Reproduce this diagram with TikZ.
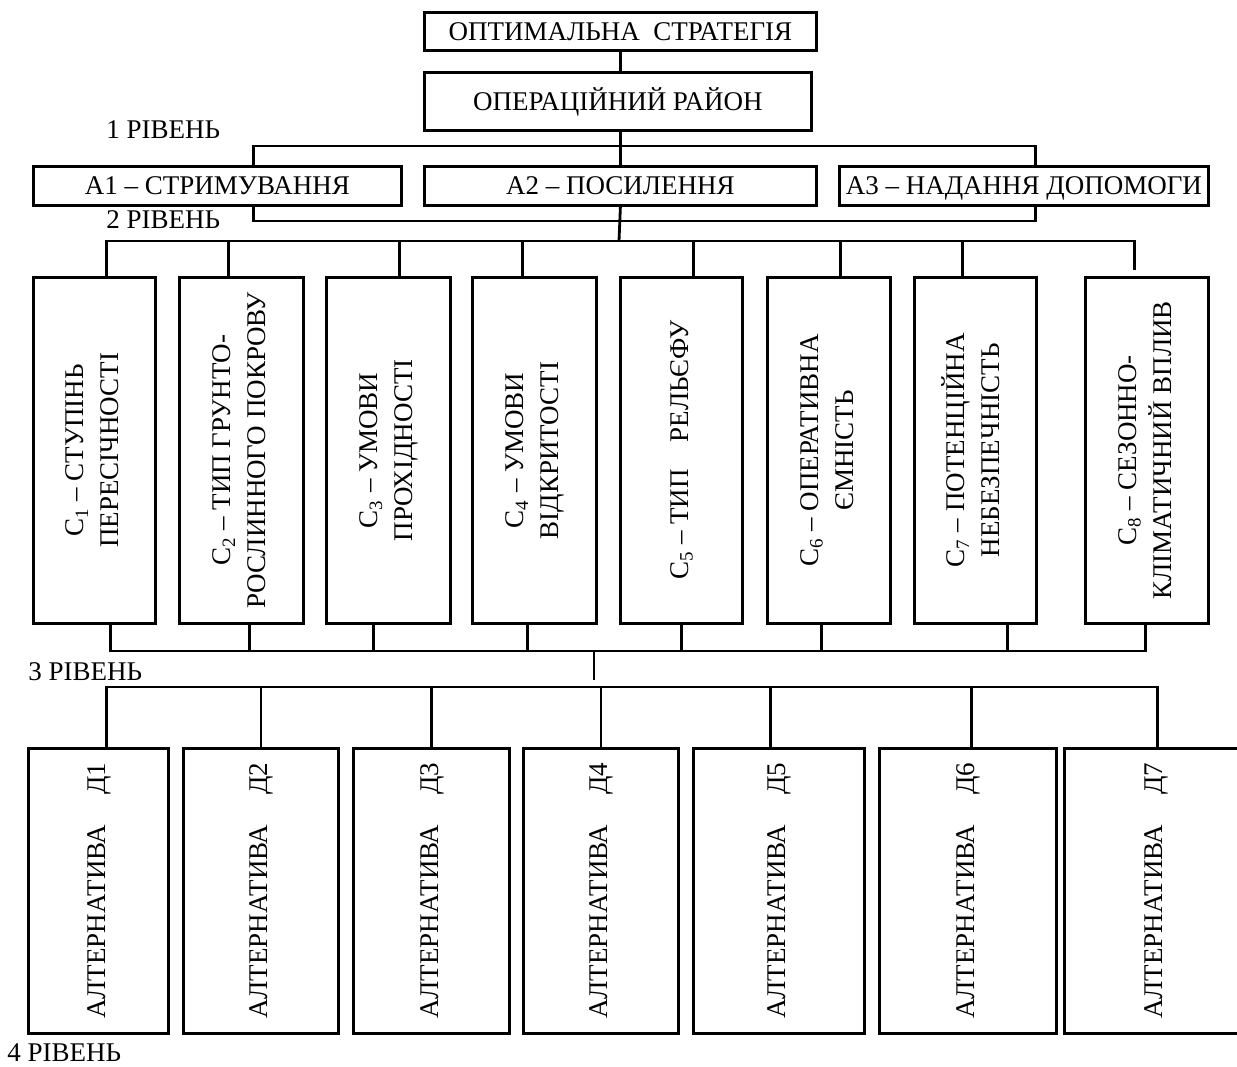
\documentclass[tikz,border=0pt]{standalone}
\usepackage{fontspec}
\setmainfont{Liberation Serif}
\usetikzlibrary{positioning}

\tikzset{
  box/.style={draw, line width=1.4pt, inner sep=0pt, anchor=north west,
    font=\fontsize{13.5}{16}\selectfont},
  abox/.style={box, text height=9pt, text depth=0pt},
  cbox/.style={box, minimum height=173pt},
  dbox/.style={box, minimum height=142.5pt},
  lvl/.style={inner sep=0pt, anchor=base west, font=\fontsize{13.5}{16}\selectfont},
  line/.style={line width=1.4pt},
}
\newcommand{\vtext}[1]{\rotatebox{90}{\fontsize{13.5}{17.5}\selectfont\begin{tabular}{@{}c@{}}#1\end{tabular}}}

\begin{document}
\begin{tikzpicture}[x=0.5pt, y=-0.5pt]
  \useasboundingbox (0,0) rectangle (1237,1066);
  \clip (0,0) rectangle (1237,1066);

  % goal and area
  \node[abox, minimum width=196pt, minimum height=19pt] (strat) at (423,11) {ОПТИМАЛЬНА\enspace СТРАТЕГІЯ};
  \node[abox, minimum width=193.5pt, minimum height=29pt, below right=9.5pt and 0pt of strat.south west] (rayon) {ОПЕРАЦІЙНИЙ РАЙОН};

  % levels
  \node[lvl] (lvl1) at (106,138) {1 РІВЕНЬ};
  \node[lvl] (lvl2) at (106,228) {2 РІВЕНЬ};
  \node[lvl] (lvl3) at (28,680) {3 РІВЕНЬ};
  \node[lvl] (lvl4) at (7,1061) {4 РІВЕНЬ};

  % actors
  \node[abox, minimum width=184pt, minimum height=19.5pt] (a1) at (32,165) {А1 – СТРИМУВАННЯ};
  \node[abox, minimum width=196pt, minimum height=19.5pt] (a2) at (423,165) {А2 – ПОСИЛЕННЯ};
  \node[abox, minimum width=184.5pt, minimum height=19.5pt] (a3) at (838,165) {А3 – НАДАННЯ ДОПОМОГИ};

  % criteria
  \node[cbox, minimum width=61pt] (c1) at (32,276) {\vtext{C\textsubscript{1} – СТУПІНЬ\\ПЕРЕСІЧНОСТІ}};
  \node[cbox, minimum width=62pt] (c2) at (178,276) {\vtext{C\textsubscript{2} – ТИП ГРУНТО-\\РОСЛИННОГО ПОКРОВУ}};
  \node[cbox, minimum width=62pt] (c3) at (325,276) {\vtext{C\textsubscript{3} – УМОВИ\\ПРОХІДНОСТІ}};
  \node[cbox, minimum width=62pt] (c4) at (471,276) {\vtext{C\textsubscript{4} – УМОВИ\\ВІДКРИТОСТІ}};
  \node[cbox, minimum width=61pt] (c5) at (619,276) {\vtext{C\textsubscript{5} – ТИП\quad РЕЛЬЄФУ}};
  \node[cbox, minimum width=61.5pt] (c6) at (766,276) {\vtext{C\textsubscript{6} – ОПЕРАТИВНА\\ЄМНІСТЬ}};
  \node[cbox, minimum width=61pt] (c7) at (913,276) {\vtext{C\textsubscript{7} – ПОТЕНЦІЙНА\\НЕБЕЗПЕЧНІСТЬ}};
  \node[cbox, minimum width=61.5pt] (c8) at (1084,276) {\vtext{C\textsubscript{8} – СЕЗОННО-\\КЛІМАТИЧНИЙ ВПЛИВ}};

  % alternatives
  \node[dbox, minimum width=70pt] (d1) at (27,747) {\vtext{АЛТЕРНАТИВА\hspace{1.1em}Д1}};
  \node[dbox, minimum width=77.5pt] (d2) at (182,747) {\vtext{АЛТЕРНАТИВА\hspace{1.1em}Д2}};
  \node[dbox, minimum width=78pt] (d3) at (352,747) {\vtext{АЛТЕРНАТИВА\hspace{1.1em}Д3}};
  \node[dbox, minimum width=77.5pt] (d4) at (522,747) {\vtext{АЛТЕРНАТИВА\hspace{1.1em}Д4}};
  \node[dbox, minimum width=85.5pt] (d5) at (692,747) {\vtext{АЛТЕРНАТИВА\hspace{1.1em}Д5}};
  \node[dbox, minimum width=88.5pt] (d6) at (878,747) {\vtext{АЛТЕРНАТИВА\hspace{1.1em}Д6}};
  \node[dbox, minimum width=91pt] (d7) at (1063,747) {\vtext{АЛТЕРНАТИВА\hspace{1.1em}Д7}};

  % buses
  \coordinate (bus1) at (619,146);
  \coordinate (bus2) at (619,221);
  \coordinate (bus3) at (619,241);
  \coordinate (bus4) at (594,651);
  \coordinate (bus4end) at (594,680);
  \coordinate (bus5) at (594,687);

  \draw[line] (strat.south) -- (strat.south |- rayon.north);
  \draw[line] (a2.north |- rayon.south) -- (a2.north);
  \draw[line] ([xshift=18pt]a1.north) |- (bus1) -| ([xshift=5.75pt]a3.north);
  \draw[line] ([xshift=18pt]a1.south) |- (bus2) -| ([xshift=5.75pt]a3.south);
  \draw[line] (a2.south) -- (bus3);

  \draw[line] ([xshift=6pt]c1.north) |- (bus3) -| ([xshift=-6.25pt,yshift=3pt]c8.north);
  \draw[line]
    ([xshift=-6.5pt]c2.north) -- ([xshift=-6.5pt]c2.north |- bus3)
    ([xshift=5.5pt]c3.north) -- ([xshift=5.5pt]c3.north |- bus3)
    ([xshift=-6pt]c4.north) -- ([xshift=-6pt]c4.north |- bus3)
    ([xshift=6pt]c5.north) -- ([xshift=6pt]c5.north |- bus3)
    ([xshift=5.75pt]c6.north) -- ([xshift=5.75pt]c6.north |- bus3)
    ([xshift=-6.5pt]c7.north) -- ([xshift=-6.5pt]c7.north |- bus3);

  \draw[line] ([xshift=8pt]c1.south) |- (bus4) -| ([xshift=-0.75pt]c8.south);
  \draw[line]
    ([xshift=4pt]c2.south) -- ([xshift=4pt]c2.south |- bus4)
    ([xshift=-7.5pt]c3.south) -- ([xshift=-7.5pt]c3.south |- bus4)
    ([xshift=-3.5pt]c4.south) -- ([xshift=-3.5pt]c4.south |- bus4)
    (c5.south) -- (c5.south |- bus4)
    ([xshift=-3.75pt]c6.south) -- ([xshift=-3.75pt]c6.south |- bus4)
    ([xshift=16pt]c7.south) -- ([xshift=16pt]c7.south |- bus4);
  \draw[line] (bus4) -- (bus4end);

  \draw[line] ([xshift=4pt]d1.north) |- (bus5) -| ([xshift=1pt]d7.north);
  \draw[line]
    (d2.north) -- (d2.north |- bus5)
    (d3.north) -- (d3.north |- bus5)
    (d4.north) -- (d4.north |- bus5)
    ([xshift=-4.25pt]d5.north) -- ([xshift=-4.25pt]d5.north |- bus5)
    ([xshift=1.75pt]d6.north) -- ([xshift=1.75pt]d6.north |- bus5);
\end{tikzpicture}
\end{document}
